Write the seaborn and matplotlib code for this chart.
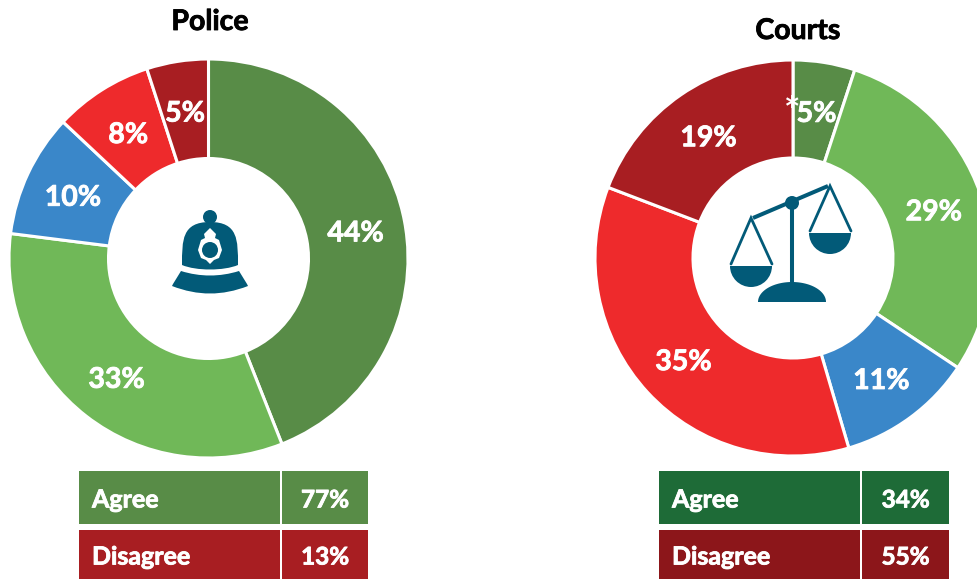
import numpy as np
import matplotlib
matplotlib.use("Agg")
import matplotlib.pyplot as plt
import matplotlib.patheffects as pe
from matplotlib.patches import Polygon, Circle, Rectangle, PathPatch, Wedge
from matplotlib.path import Path
import seaborn as sns

police_values = [44, 33, 10, 8, 5]
courts_values = [5, 29, 11, 35, 19]
police_labels = ["44%", "33%", "10%", "8%", "5%"]
courts_labels = ["5%", "29%", "11%", "35%", "19%"]
titles = ["Police", "Courts"]
table_rows = ["Agree", "Disagree"]
police_table = ["77%", "13%"]
courts_table = ["34%", "55%"]

sns.set_theme(style="white")
plt.rcParams["font.family"] = ["Lato", "DejaVu Sans"]

W, H = 978, 579
palette = sns.color_palette(["#588C47", "#70B858", "#3A87C9", "#EE2A2C", "#A81E22"])
ICON = "#025A78"
fig = plt.figure(figsize=(W / 100, H / 100), dpi=100, facecolor="white")


def bold(color):
    return [pe.withStroke(linewidth=0.6, foreground=color)]


def donut(values, labels, cx, cy, R, r):
    pad = 1.03
    ax = fig.add_axes([(cx - R * pad) / W, 1 - (cy + R * pad) / H, 2 * R * pad / W, 2 * R * pad / H])
    wedges, texts = ax.pie(values, colors=palette, startangle=90, counterclock=False,
                           labels=labels, labeldistance=(R + r) / 2 / R,
                           wedgeprops=dict(width=(R - r) / R, edgecolor="white", linewidth=2.2))
    for t in texts:
        t.set(ha="center", va="center", color="white", fontweight="bold", fontsize=20.5,
              path_effects=bold("white"))
        x, y = t.get_position()
        t.set_position((x, y - 3 / R))
    ax.set_xlim(-pad, pad)
    ax.set_ylim(-pad, pad)
    ax.set_aspect("equal")
    ax.axis("off")
    return ax


donut(police_values, police_labels, 208.5, 258.5, 199.5, 100)
donut(courts_values, courts_labels, 793, 258, 198, 100)

ov = fig.add_axes([0, 0, 1, 1], zorder=5)
ov.set_xlim(0, W)
ov.set_ylim(H, 0)
ov.axis("off")
ov.patch.set_alpha(0)

ov.text(210, 22, titles[0], ha="center", va="center", color="black", fontweight="bold", fontsize=20.5,
        path_effects=bold("black"))
ov.text(798, 31, titles[1], ha="center", va="center", color="black", fontweight="bold", fontsize=20.5,
        path_effects=bold("black"))
ov.text(792.5, 113, "*", ha="center", va="center", color="white", fontweight="bold", fontsize=28)


def table(x0, xm, x1, colors, values):
    rows = [(471, 524), (530, 579)]
    for (y0, y1), c, name, val in zip(rows, colors, table_rows, values):
        ov.add_patch(Rectangle((x0, y0), xm - 1 - x0, y1 - y0, fc=c, ec="none"))
        ov.add_patch(Rectangle((xm + 1, y0), x1 - xm - 1, y1 - y0, fc=c, ec="none"))
        ym = 500 if y0 == 471 else 557
        ov.text(x0 + 13, ym, name, ha="left", va="center", color="white", fontweight="bold", fontsize=18,
                path_effects=bold("white"))
        ov.text((xm + x1) / 2 + 0.5, ym, val, ha="center", va="center", color="white", fontweight="bold",
                fontsize=17.5, path_effects=bold("white"))


table(79, 281, 368, ["#588C47", "#A81E22"], police_table)
table(659, 861, 949, ["#1E6B37", "#8C161A"], courts_table)

# police helmet icon
ov.add_patch(Circle((210, 217), 7, fc=ICON, ec="none"))
dome = Path([(182, 265), (182, 240), (182, 222), (210, 222), (238, 222), (238, 240), (238, 265),
             (224, 271), (196, 271), (182, 265), (182, 265)],
            [Path.MOVETO, Path.CURVE4, Path.CURVE4, Path.CURVE4, Path.CURVE4, Path.CURVE4, Path.CURVE4,
             Path.CURVE4, Path.CURVE4, Path.CURVE4, Path.CLOSEPOLY])
ov.add_patch(PathPatch(dome, fc=ICON, ec="none"))
brim = Path([(181, 271), (200, 277), (220, 277), (239, 271), (247, 284), (248, 286),
             (222, 296), (198, 296), (172, 286), (173, 284), (181, 271)],
            [Path.MOVETO, Path.CURVE4, Path.CURVE4, Path.CURVE4, Path.LINETO, Path.LINETO,
             Path.CURVE4, Path.CURVE4, Path.CURVE4, Path.LINETO, Path.CLOSEPOLY])
ov.add_patch(PathPatch(brim, fc=ICON, ec="none"))
badge = [(210, 228), (214, 232), (216, 234), (215, 238), (219, 240), (222, 250), (219, 258),
         (214, 260), (210, 264), (206, 260), (201, 258), (198, 250), (201, 240), (205, 238),
         (204, 234), (206, 232)]
ov.add_patch(Polygon(badge, closed=True, fc="white", ec="none"))
ov.add_patch(Circle((210, 250), 8, fc=ICON, ec="none"))

# scales icon
ov.plot([792, 792], [203, 290], color=ICON, lw=2.9, solid_capstyle="butt")
ov.plot([753, 828], [218, 186], color=ICON, lw=2.9, solid_capstyle="butt")
ov.add_patch(Circle((792, 203), 7, fc=ICON, ec="none"))
for ax_, ay_, cy_ in [(751, 218, 266), (830, 186, 233)]:
    ov.plot([ax_ - 20, ax_, ax_ + 21], [cy_ - 2, ay_, cy_ - 2], color=ICON, lw=2.0, solid_joinstyle="miter")
    ov.add_patch(Wedge((ax_, cy_), 21, 0, 180, fc=ICON, ec="none"))
theta = np.linspace(0, np.pi, 60)
ov.add_patch(Polygon(np.column_stack([792 + 34 * np.cos(theta), 302 - 20 * np.sin(theta)]),
                     closed=True, fc=ICON, ec="none"))

fig.savefig("out.png", dpi=100)
